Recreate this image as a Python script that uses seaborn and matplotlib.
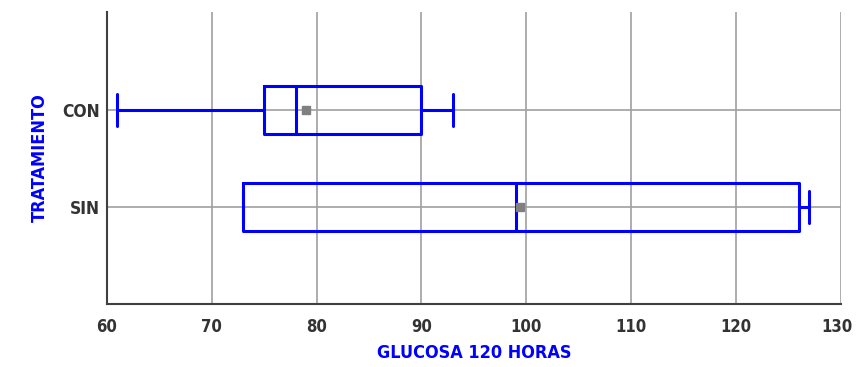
import seaborn as sns
import pandas as pd
import matplotlib.pyplot as plt
import matplotlib.transforms as mtransforms
from matplotlib.ticker import MultipleLocator

# datos
grupos = ["CON", "SIN"]
glucosa_con = [61, 66, 75, 76, 78, 82, 90, 90, 93]
glucosa_sin = [73, 73, 73, 80, 99, 118, 126, 126, 127]
x_ticks = [60, 70, 80, 90, 100, 110, 120, 130]

df = pd.DataFrame({
    "TRATAMIENTO": ["CON"] * len(glucosa_con) + ["SIN"] * len(glucosa_sin),
    "GLUCOSA": glucosa_con + glucosa_sin,
})

sns.set_style("white")
plt.rcParams["font.family"] = ["DejaVu Sans"]
plt.rcParams["font.stretch"] = "condensed"

fig, ax = plt.subplots(figsize=(8.56, 3.67), dpi=100)
fig.subplots_adjust(left=0.125, right=0.982, top=0.967, bottom=0.172)

sns.boxplot(data=df, x="GLUCOSA", y="TRATAMIENTO", order=grupos, orient="h",
            fill=False, color="#0000ff", width=0.5, linewidth=2.2,
            showmeans=True, capwidths=0.33,
            meanprops=dict(marker="s", markerfacecolor="#808080",
                           markeredgecolor="#808080", markersize=6),
            ax=ax)

ax.set_xlim(60, 130)
ax.set_ylim(2.0, -1.01)
ax.set_xticks(x_ticks)
ax.xaxis.set_minor_locator(MultipleLocator(5))
ax.grid(True, which="major", color="#a0a0a0", linewidth=1.2)
ax.set_axisbelow(True)

for s in ["top", "right"]:
    ax.spines[s].set_visible(False)
for s in ["left", "bottom"]:
    ax.spines[s].set_color("#404040")
    ax.spines[s].set_linewidth(1.5)

ax.tick_params(axis="x", which="both", direction="inout", length=8, width=1.3,
               color="#404040", labelsize=12, labelcolor="#333333", pad=6)
ax.tick_params(axis="x", which="minor", length=7)
ax.tick_params(axis="y", direction="out", length=4, width=1.3, color="#404040",
               labelsize=12.5, labelcolor="#333333", pad=1)
for t in ax.get_xticklabels() + ax.get_yticklabels():
    t.set_fontweight("bold")

# el ultimo numero queda pegado al borde: moverlo un poco a la izquierda
last = ax.get_xticklabels()[-1]
last.set_transform(last.get_transform() +
                   mtransforms.ScaledTranslation(-4 / 100, 0, fig.dpi_scale_trans))

ax.set_xlabel("GLUCOSA 120 HORAS", color="#0000ff", fontsize=13,
              fontweight="bold", labelpad=6)
ax.set_ylabel("TRATAMIENTO", color="#0000ff", fontsize=13,
              fontweight="bold", labelpad=10)

plt.savefig("out.png", dpi=100)
